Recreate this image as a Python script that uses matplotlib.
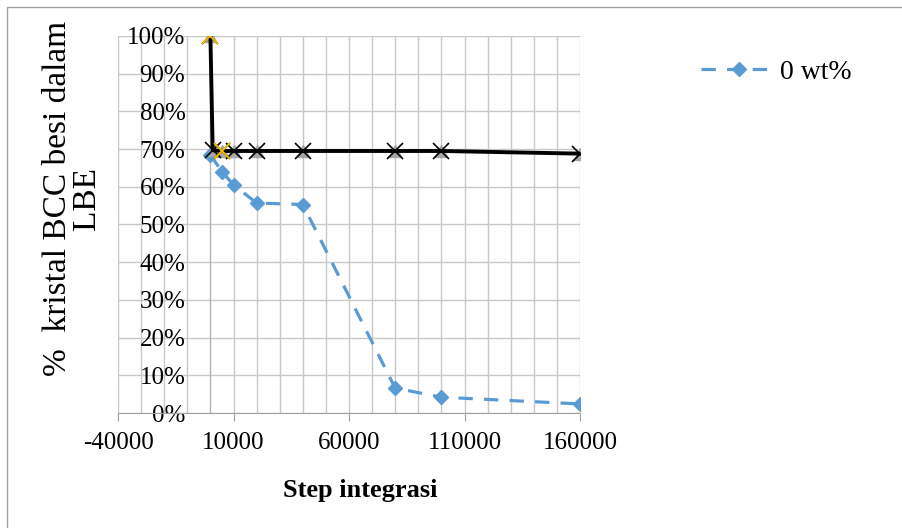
import matplotlib
matplotlib.use("Agg")
import matplotlib.pyplot as plt
import matplotlib.patches as patches
from matplotlib.ticker import MultipleLocator, PercentFormatter

plt.rcParams['font.family'] = ['Liberation Serif', 'DejaVu Serif']
plt.rcParams['axes.unicode_minus'] = False

# data
steps_0wt = [0, 5000, 10000, 20000, 40000, 80000, 100000, 160000]
bcc_0wt = [0.685, 0.64, 0.605, 0.557, 0.553, 0.066, 0.042, 0.024]

steps_ref = [0, 1000, 5000, 10000, 20000, 40000, 80000, 100000, 160000]
bcc_ref = [1.0, 0.697, 0.695, 0.695, 0.695, 0.695, 0.695, 0.695, 0.688]

steps_yellow = [0, 5000]
bcc_yellow = [1.0, 0.695]

x_ticks = [-40000, 10000, 60000, 110000, 160000]

fig = plt.figure(figsize=(9.02, 5.28), dpi=100)
ax = fig.add_axes([118 / 902, 1 - 413 / 528, (580 - 118) / 902, (413 - 36) / 528])

blue = '#5b9bd5'
ax.plot(steps_0wt, bcc_0wt, color=blue, lw=2.3, ls=(0, (4.5, 3.5)),
        marker='D', ms=7.5, mfc=blue, mec=blue, label='0 wt%', zorder=3)
ax.plot(steps_ref, bcc_ref, ls='none', marker='^', ms=9, color='#a5a5a5', zorder=4)
ax.plot(steps_ref, bcc_ref, color='black', lw=2.8, marker='x', ms=11, mew=1.2,
        zorder=5)
ax.plot(steps_yellow, bcc_yellow, ls='none', marker='x', ms=11, mew=1.3,
        color='#ffc000', zorder=6)

ax.set_xlim(-40000, 160000)
ax.set_ylim(0, 1)
ax.set_xticks(x_ticks)
ax.xaxis.set_minor_locator(MultipleLocator(10000))
ax.yaxis.set_major_locator(MultipleLocator(0.1))
ax.yaxis.set_major_formatter(PercentFormatter(1.0, decimals=0))
ax.grid(True, which='both', color='#c8c8c8', lw=1)
ax.set_axisbelow(True)

for s in ['top', 'right']:
    ax.spines[s].set_visible(False)
ax.spines['left'].set_position(('data', 0))
ax.spines['left'].set_color('#b4b4b4')
ax.spines['bottom'].set_color('#a0a0a0')

ax.tick_params(axis='y', length=0, pad=18, labelsize=18)
ax.tick_params(axis='x', which='major', length=6, color='#a0a0a0', pad=8, labelsize=18)
ax.tick_params(axis='x', which='minor', length=0)

fig.text(72 / 902, 1 - 198 / 528, '%  kristal BCC besi dalam\nLBE', rotation=90,
         ha='center', va='center', multialignment='center', fontsize=24,
         linespacing=0.95)
fig.text(360 / 902, 1 - 491 / 528, 'Step integrasi', ha='center', va='center',
         fontsize=19, fontweight='bold')

fig.legend(loc='center left', bbox_to_anchor=(690 / 902, 1 - 72 / 528), frameon=False,
           fontsize=20, handlelength=2.7, handletextpad=0.15, borderaxespad=0)

fig.patches.append(patches.Rectangle((7 / 902, -0.1), 2, 1.1 - 7 / 528,
                                     transform=fig.transFigure, fill=False,
                                     edgecolor='#a0a0a0', lw=1))

fig.savefig('out.png', dpi=100)
